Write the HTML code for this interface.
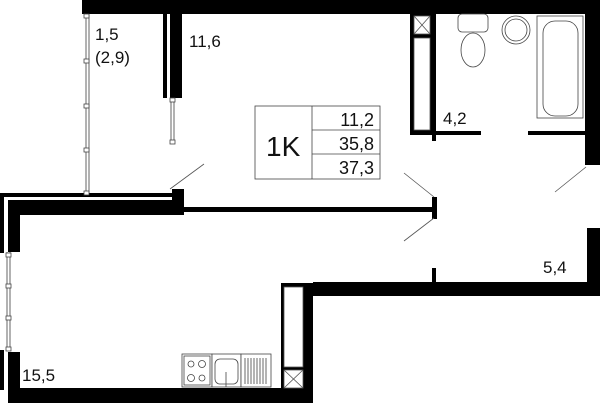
<!DOCTYPE html><html><head><style>body{margin:0;background:#fff}svg{display:block}text{font-family:"Liberation Sans",sans-serif;fill:#111}</style></head><body>
<svg width="600" height="403" viewBox="0 0 600 403">
<g fill="#000">
<rect x="82" y="0" width="518" height="14"/>
<rect x="585" y="0" width="15" height="165"/>
<rect x="163" y="14" width="4" height="84"/>
<rect x="170" y="14" width="12" height="84"/>
<rect x="0" y="193" width="172" height="4"/>
<rect x="0" y="193" width="4" height="60"/>
<rect x="8" y="200" width="175" height="15"/>
<rect x="172" y="189" width="12" height="26"/>
<rect x="183" y="207" width="252" height="5"/>
<rect x="432" y="197" width="5" height="22"/>
<rect x="8" y="200" width="12" height="52"/>
<rect x="0" y="350" width="4" height="40"/>
<rect x="8" y="352" width="12" height="51"/>
<rect x="8" y="388" width="305" height="15"/>
<rect x="281" y="283" width="32" height="120"/>
<rect x="313" y="282" width="287" height="14"/>
<rect x="587" y="228" width="13" height="68"/>
<rect x="432" y="268" width="4" height="16"/>
<rect x="410" y="14" width="26" height="121"/>
<rect x="432" y="131" width="4" height="10"/>
<rect x="410" y="131" width="71" height="4"/>
<rect x="528" y="131" width="57" height="4"/>
</g>
<g fill="#fff" stroke="#555" stroke-width="0.8">
<rect x="284" y="287" width="19" height="80"/>
<rect x="284" y="370" width="19" height="18"/>
<rect x="414" y="16" width="16" height="18"/>
<rect x="414" y="38" width="16" height="92"/>
</g>
<g stroke="#555" stroke-width="0.8">
<line x1="284" y1="370" x2="303" y2="388"/><line x1="303" y1="370" x2="284" y2="388"/>
<line x1="414" y1="16" x2="430" y2="34"/><line x1="430" y1="16" x2="414" y2="34"/>
<line x1="170" y1="189" x2="204" y2="164"/>
<line x1="404" y1="173" x2="434" y2="197"/>
<line x1="404" y1="241" x2="434" y2="218"/>
<line x1="586" y1="167" x2="555" y2="192"/>
</g>
<g fill="none" stroke="#666" stroke-width="1">
<line x1="86" y1="14" x2="86" y2="193"/><line x1="89" y1="14" x2="89" y2="193"/>
<line x1="171" y1="98" x2="171" y2="142"/><line x1="174" y1="98" x2="174" y2="142"/>
<line x1="7" y1="252" x2="7" y2="350"/><line x1="10" y1="252" x2="10" y2="350"/>
</g>
<g fill="#fff" stroke="#444" stroke-width="0.8">
<rect x="84" y="14" width="5" height="4"/><rect x="84" y="59" width="5" height="4"/><rect x="84" y="104" width="5" height="4"/><rect x="84" y="148" width="5" height="4"/><rect x="84" y="191" width="5" height="4"/>
<rect x="170" y="98" width="5" height="4"/><rect x="170" y="140" width="5" height="4"/>
<rect x="6" y="253" width="5" height="4"/><rect x="6" y="284" width="5" height="4"/><rect x="6" y="316" width="5" height="4"/><rect x="6" y="347" width="5" height="4"/>
<rect x="182" y="354" width="30" height="33"/><rect x="212" y="354" width="29" height="33"/><rect x="241" y="354" width="30" height="33"/>
<rect x="184" y="356" width="26" height="29"/>
<circle cx="191" cy="364" r="3"/><circle cx="202" cy="364" r="3.5"/><circle cx="191" cy="378" r="3.5"/><circle cx="202" cy="378" r="3"/>
<rect x="215" y="359" width="23" height="25" rx="5"/>
<rect x="537" y="16" width="46" height="102"/>
<rect x="543" y="21" width="35" height="95" rx="12"/>
<rect x="458" y="14" width="30" height="18" rx="4"/>
<ellipse cx="473" cy="50" rx="12" ry="17"/>
<circle cx="516" cy="30" r="14"/><circle cx="516" cy="30" r="11"/>
<rect x="255" y="106" width="125" height="73"/>
</g>
<g stroke="#444" stroke-width="0.8">
<line x1="312" y1="106" x2="312" y2="179"/><line x1="312" y1="130" x2="380" y2="130"/><line x1="312" y1="154" x2="380" y2="154"/>
<line x1="226" y1="372" x2="226" y2="387"/>
<line x1="245" y1="358" x2="245" y2="384"/><line x1="248" y1="358" x2="248" y2="384"/><line x1="251" y1="358" x2="251" y2="384"/><line x1="254" y1="358" x2="254" y2="384"/><line x1="257" y1="358" x2="257" y2="384"/><line x1="260" y1="358" x2="260" y2="384"/><line x1="263" y1="358" x2="263" y2="384"/><line x1="266" y1="358" x2="266" y2="384"/>
</g>
<text x="95" y="40" font-size="17">1,5</text>
<text x="95" y="63" font-size="17">(2,9)</text>
<text x="189" y="47" font-size="17">11,6</text>
<text x="443" y="124" font-size="17">4,2</text>
<text x="543" y="273" font-size="17">5,4</text>
<text x="22" y="381" font-size="17">15,5</text>
<text x="266" y="156" font-size="28">1K</text>
<text x="374" y="126" font-size="18" text-anchor="end">11,2</text>
<text x="374" y="150" font-size="18" text-anchor="end">35,8</text>
<text x="374" y="174" font-size="18" text-anchor="end">37,3</text>
</svg></body></html>
